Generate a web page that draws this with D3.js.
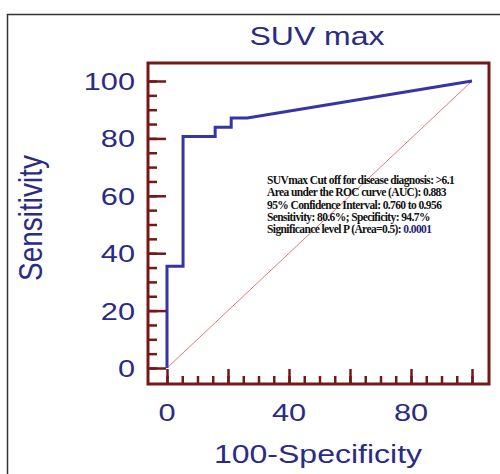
<html>
<head>
<script src="https://cdn.jsdelivr.net/npm/d3@7/dist/d3.min.js"></script>
<style>
body { margin: 0; background: #fff; }
.lbl { font-family: "Liberation Sans", Arial, sans-serif; fill: #2b2b85; }
.note { font-family: "Liberation Serif", "Times New Roman", serif; font-weight: bold; font-size: 11.5px; fill: #111; letter-spacing: -0.6px; }
</style>
</head>
<body>
<script>
// ROC curve: 100-specificity vs sensitivity
var fpr  = [0, 0, 5.26, 5.26, 15.79, 15.79, 21.05, 21.05, 26.32, 100];
var sens = [0, 35.48, 35.48, 80.65, 80.65, 83.87, 83.87, 87.10, 87.10, 100];
var xTicks = [0, 40, 80];
var yTicks = [0, 20, 40, 60, 80, 100];
var title = "SUV max";
var xTitle = "100-Specificity";
var yTitle = "Sensitivity";
var notes = [
  "SUVmax Cut off for disease diagnosis: >6.1",
  "Area under the ROC curve (AUC): 0.883",
  "95% Confidence Interval: 0.760 to 0.956",
  "Sensitivity: 80.6%; Specificity: 94.7%",
  "Significance level P (Area=0.5): "
];
var pValue = "0.0001";

var W = 500, H = 474;
var box = {left: 148, top: 63, right: 489, bottom: 384};
var stretch = 1.28;  // the original text is stretched horizontally

var svg = d3.select("body").append("svg")
  .attr("width", W).attr("height", H);

var x = d3.scaleLinear().domain([0, 100]).range([167, 472]);
var y = d3.scaleLinear().domain([0, 100]).range([368, 81]);

// outer frame (only top and left show)
svg.append("path")
  .attr("d", "M7.5," + H + "V14.5H" + W)
  .attr("fill", "none").attr("stroke", "#333").attr("stroke-width", 1.5);

// title
svg.append("text").attr("class", "lbl")
  .attr("transform", "translate(317,45) scale(" + stretch + ",1)")
  .attr("text-anchor", "middle").attr("font-size", 25)
  .text(title);

// diagonal reference
svg.append("line")
  .attr("x1", x(0)).attr("y1", y(0)).attr("x2", x(100)).attr("y2", y(100))
  .attr("stroke", "#e07a7a").attr("stroke-width", 1);

// inward ticks
var minor = d3.range(0, 101, 5);
var tickCol = "#741818";

function ticksY(vals, len) {
  var a = svg.append("g")
    .attr("transform", "translate(" + box.left + ",0)")
    .call(d3.axisRight(y).tickValues(vals).tickSize(len).tickFormat(""));
  a.select(".domain").remove();
  a.selectAll("line").attr("stroke", tickCol).attr("stroke-width", 2.5);
}
function ticksX(vals, len) {
  var a = svg.append("g")
    .attr("transform", "translate(0," + box.bottom + ")")
    .call(d3.axisTop(x).tickValues(vals).tickSize(len).tickFormat(""));
  a.select(".domain").remove();
  a.selectAll("line").attr("stroke", tickCol).attr("stroke-width", 2.5);
}
ticksY(minor, 9);
ticksY(d3.range(0, 101, 20), 18);
ticksX(minor, 8);
ticksX(d3.range(0, 101, 20), 15);

// plot box
svg.append("rect")
  .attr("x", box.left).attr("y", box.top)
  .attr("width", box.right - box.left).attr("height", box.bottom - box.top)
  .attr("fill", "none").attr("stroke", tickCol).attr("stroke-width", 3);

// ROC curve
var pts = fpr.map(function(d, i) { return [d, sens[i]]; });
svg.append("path")
  .datum(pts)
  .attr("d", d3.line().x(function(d) { return x(d[0]); }).y(function(d) { return y(d[1]); }))
  .attr("fill", "none").attr("stroke", "#3535a5").attr("stroke-width", 3)
  .attr("stroke-linejoin", "miter");

// tick labels
svg.selectAll(".ylab").data(yTicks).enter().append("text")
  .attr("class", "lbl ylab")
  .attr("transform", function(d) { return "translate(135," + (y(d) + 9) + ") scale(" + stretch + ",1)"; })
  .attr("text-anchor", "end").attr("font-size", 24)
  .text(function(d) { return d; });

svg.selectAll(".xlab").data(xTicks).enter().append("text")
  .attr("class", "lbl xlab")
  .attr("transform", function(d) { return "translate(" + x(d) + ",421) scale(" + stretch + ",1)"; })
  .attr("text-anchor", "middle").attr("font-size", 24)
  .text(function(d) { return d; });

// axis titles
svg.append("text").attr("class", "lbl")
  .attr("transform", "translate(318,463) scale(" + stretch + ",1)")
  .attr("text-anchor", "middle").attr("font-size", 25)
  .text(xTitle);

svg.append("text").attr("class", "lbl")
  .attr("transform", "translate(42,218) scale(1.2,1) rotate(-90)")
  .attr("text-anchor", "middle").attr("font-size", 28)
  .text(yTitle);

// statistics box
var nt = svg.append("text").attr("class", "note")
  .attr("transform", "translate(267,184)");
nt.selectAll("tspan").data(notes).enter().append("tspan")
  .attr("x", 0).attr("dy", function(d, i) { return i ? 12.3 : 0; })
  .text(function(d) { return d; });
nt.append("tspan").attr("fill", "#1e1e7a").text(pValue);
</script>
</body>
</html>
